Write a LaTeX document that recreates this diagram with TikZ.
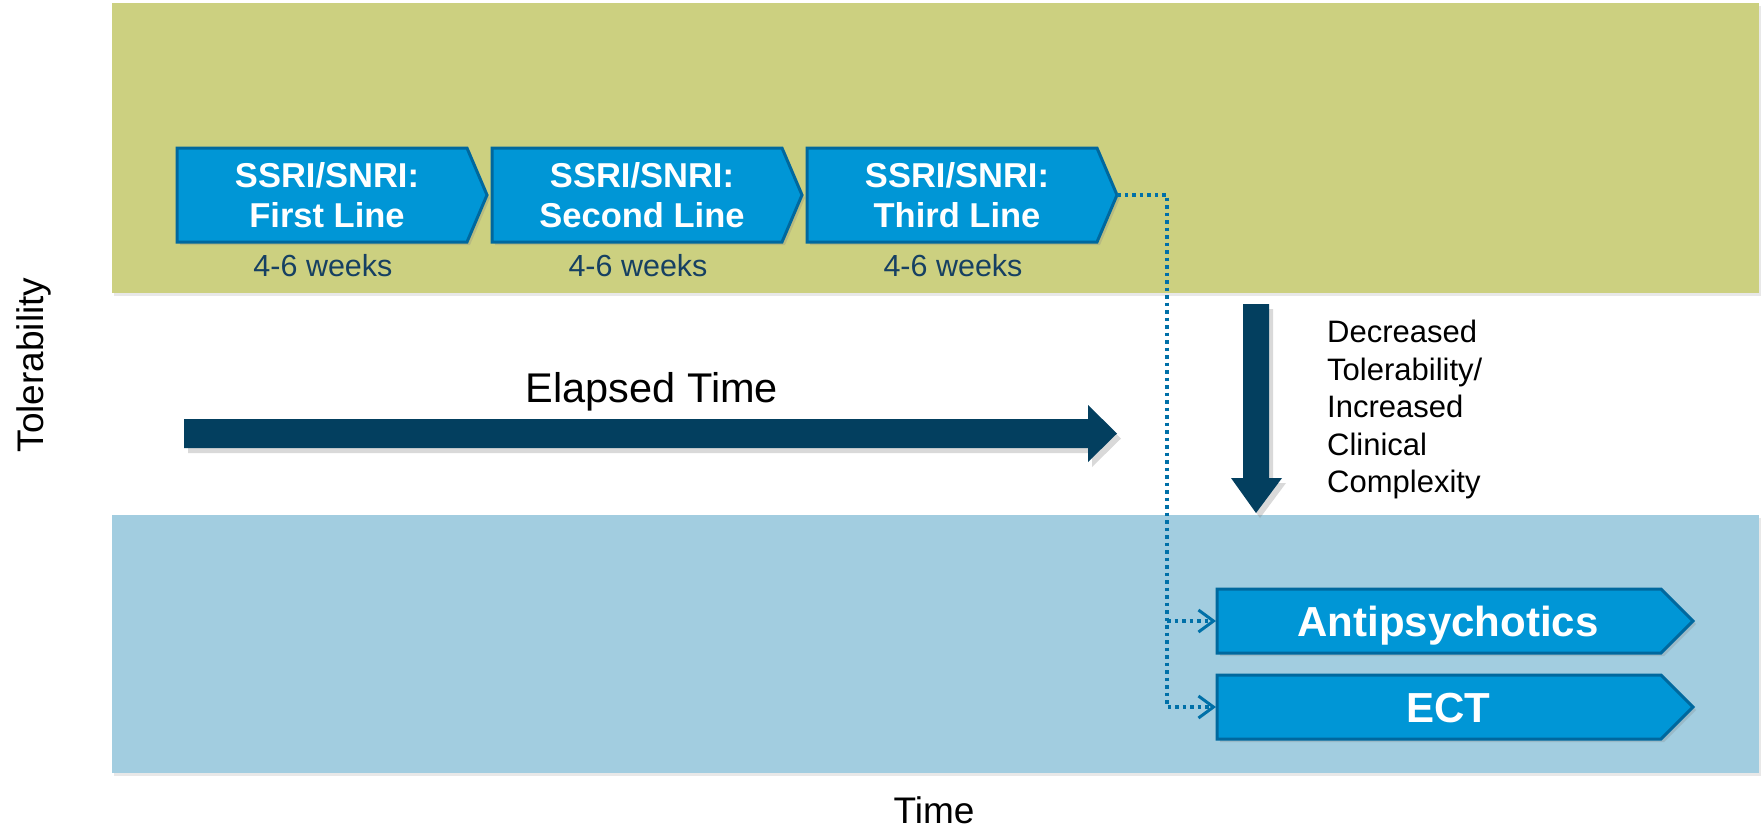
\documentclass[tikz,border=0pt]{standalone}
\usepackage{fontspec}
\setmainfont{Liberation Sans}
\usetikzlibrary{shadows,arrows.meta}
\definecolor{greenband}{RGB}{204,208,128}
\definecolor{blueband}{RGB}{162,205,224}
\definecolor{chevfill}{RGB}{0,150,214}
\definecolor{chevline}{RGB}{0,104,158}
\definecolor{navy}{RGB}{3,63,95}
\definecolor{weekcol}{RGB}{22,64,98}
\definecolor{dotcol}{RGB}{0,112,168}
\tikzset{
  band/.style={drop shadow={shadow xshift=2pt,shadow yshift=-3pt,opacity=.18}},
  chev/.style={fill=chevfill,draw=chevline,line width=3pt,line join=miter,
    drop shadow={shadow xshift=3pt,shadow yshift=-3pt,opacity=.25}},
  chevtext/.style={text=white,font=\fontsize{34.5}{40}\selectfont\bfseries,align=center,inner sep=0pt},
  bigtext/.style={text=white,font=\fontsize{42}{46}\selectfont\bfseries,inner sep=0pt},
  weeks/.style={text=weekcol,font=\fontsize{30.5}{34}\selectfont,inner sep=0pt},
  bigarrow/.style={fill=navy,drop shadow={shadow xshift=4pt,shadow yshift=-5pt,opacity=.3}},
  dotconn/.style={draw=dotcol,line width=3.5pt,dash pattern=on 3.5pt off 4pt},
  dottip/.style={-{Straight Barb[length=15pt,width=22pt,line width=3pt]}},
  plain/.style={text=black,inner sep=0pt}
}
\begin{document}
\begin{tikzpicture}[x=1pt,y=-1pt]
\useasboundingbox (0,0) rectangle (1762,831);
% bands
\path[band,fill=greenband] (112,3) rectangle (1759,293);
\path[band,fill=blueband] (112,515) rectangle (1759,773);
% chevrons
\path[chev] (177,148) -- (467,148) -- (487,195) -- (467,242) -- (177,242) -- cycle;
\path[chev] (492,148) -- (782,148) -- (802,195) -- (782,242) -- (492,242) -- cycle;
\path[chev] (807,148) -- (1097,148) -- (1117,195) -- (1097,242) -- (807,242) -- cycle;
\node[chevtext] (c1) at (327,195) {SSRI/SNRI:\\First Line};
\node[chevtext] (c2) at (642,195) {SSRI/SNRI:\\Second Line};
\node[chevtext] (c3) at (957,195) {SSRI/SNRI:\\Third Line};
\node[weeks,anchor=base] (w1) at (323,276) {4-6 weeks};
\node[weeks,anchor=base] (w2) at (638,276) {4-6 weeks};
\node[weeks,anchor=base] (w3) at (953,276) {4-6 weeks};
% lower chevrons
\path[chev] (1217,589) -- (1661,589) -- (1693,621) -- (1661,653) -- (1217,653) -- cycle;
\path[chev] (1217,675) -- (1661,675) -- (1693,707) -- (1661,739) -- (1217,739) -- cycle;
\node[bigtext,anchor=base] (ap) at (1448,636) {Antipsychotics};
\node[bigtext,anchor=base] (ect) at (1448,722) {ECT};
% big arrows
\path[bigarrow] (184,419) -- (1088,419) -- (1088,405) -- (1117,433.5) -- (1088,462) -- (1088,448) -- (184,448) -- cycle;
\path[bigarrow] (1243,304) -- (1269,304) -- (1269,478) -- (1282,478) -- (1256,513) -- (1231,478) -- (1243,478) -- cycle;
% texts
\node[plain,font=\fontsize{41.5}{44}\selectfont,anchor=base] (elapsed) at (652,402) {Elapsed Time};
\node[plain,font=\fontsize{31}{37.5}\selectfont,align=left,anchor=north west] (decr) at (1327,320)
  {Decreased\\Tolerability/\\Increased\\Clinical\\Complexity};
\node[plain,font=\fontsize{37}{40}\selectfont,rotate=90] (tol) at (34,365) {Tolerability};
\node[plain,font=\fontsize{37}{40}\selectfont,anchor=base] (time) at (934,823) {Time};
% dotted connectors
\coordinate (t3tip) at (1117,195);
\coordinate (bend) at (1167,195);
\coordinate (apin) at (1216,621);
\coordinate (ectin) at (1216,707);
\coordinate (junc) at (bend |- apin);
\draw[dotconn,dottip] (t3tip) -- (bend) |- (ectin);
\draw[dotconn,dottip] (junc) -- (apin);
\end{tikzpicture}
\end{document}
